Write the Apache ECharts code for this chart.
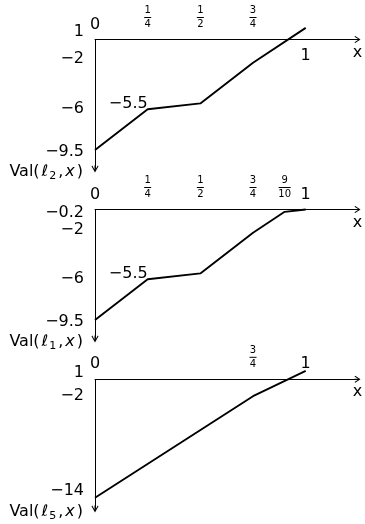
<!DOCTYPE html>
<html>
<head>
<meta charset="utf-8">
<script src="https://cdn.jsdelivr.net/npm/echarts@6/dist/echarts.min.js"></script>
<style>
  html, body { margin: 0; padding: 0; background: #fff; }
  #chart { width: 365px; height: 524px; }
</style>
</head>
<body>
<div id="chart"></div>
<script>
// Piecewise-linear value functions Val(l, x) on [0, 1]
const xsL2 = [0, 0.25, 0.5, 0.75, 1];
const valL2 = [-9.5, -6, -5.5, -2, 1];
const xsL1 = [0, 0.25, 0.5, 0.75, 0.9, 1];
const valL1 = [-9.5, -6, -5.5, -2, -0.2, 0];
const xsL5 = [0, 0.75, 1];
const valL5 = [-14, -2, 1];

// x tick labels drawn above the x axis
const xTopValsL2 = [0, 0.25, 0.5, 0.75];
const xTopTextL2 = ['0', '1/4', '1/2', '3/4'];
const xTopValsL1 = [0, 0.25, 0.5, 0.75, 0.9, 1];
const xTopTextL1 = ['0', '1/4', '1/2', '3/4', '9/10', '1'];
const xTopValsL5 = [0, 0.75, 1];
const xTopTextL5 = ['0', '3/4', '1'];
// x tick labels drawn below the x axis
const xBelowValsL2 = [1];
const xBelowTextL2 = ['1'];

// y tick labels
const yTicksL2 = [1, -2, -6, -9.5];
const yTicksL1 = [-0.2, -2, -6, -9.5];
const yTicksL5 = [1, -2, -14];

// point annotation
const noteXL2 = [0.25];
const noteValL2 = [-5.5];
const noteXL1 = [0.25];
const noteValL1 = [-5.5];

// subscripts of the plotted functions
const fnIndex = ['2', '1', '5'];

const FONT = 'DejaVu Sans';
const INK = '#000';

// open arrow heads, tip pointing up in symbol space
const ARROW_X = 'path://M3.5,0 L7,5.3 L6.2,6 L3.5,1.7 L0.8,6 L0,5.3 Z M3,1 L4,1 L4,6 L3,6 Z';
const ARROW_Y = 'path://M3.5,0 L7,6.2 L6.2,7 L3.5,1.9 L0.8,7 L0,6.2 Z M3,1 L4,1 L4,7 L3,7 Z';

function fmtNum(v) {
  return v < 0 ? '\u2212' + String(-v) : String(v);
}

function fracRich(text) {
  if (text.indexOf('/') >= 0) {
    const parts = text.split('/');
    const bar = parts[1].length > 1 ? 'bw' : 'b';
    return '{n|' + parts[0] + '}\n{' + bar + '| }\n{d|' + parts[1] + '}';
  }
  return '{w|' + text + '}';
}

const RICH_X = {
  w: { fontFamily: FONT, fontSize: 16, lineHeight: 12, color: INK },
  n: { fontFamily: FONT, fontSize: 10, lineHeight: 12, color: INK },
  d: { fontFamily: FONT, fontSize: 10, lineHeight: 12, color: INK },
  b: { width: 7, height: 1, lineHeight: 2, fontSize: 1, backgroundColor: INK },
  bw: { width: 12, height: 1, lineHeight: 2, fontSize: 1, backgroundColor: INK }
};

const RICH_NAME = {
  t: { fontFamily: FONT, fontSize: 16, lineHeight: 18, color: INK },
  l: { fontFamily: FONT, fontSize: 16, fontStyle: 'italic', lineHeight: 18, color: INK, padding: [0, 1, 0, 2] },
  s: { fontFamily: FONT, fontSize: 11, lineHeight: 18, color: INK, padding: [8, 2, 0, 0] },
  c: { fontFamily: FONT, fontSize: 16, lineHeight: 18, color: INK, padding: [0, 2, 0, 0] },
  i: { fontFamily: FONT, fontSize: 16, fontStyle: 'italic', lineHeight: 18, color: INK, padding: [0, 2, 0, 0] }
};

// y labels can be nudged up or down a few pixels (positive = down)
function yLabelStyles(nudges) {
  const rich = { v: { fontFamily: FONT, fontSize: 16, lineHeight: 18, color: INK } };
  nudges.forEach(function (d, k) {
    rich['n' + k] = {
      fontFamily: FONT, fontSize: 16, lineHeight: 18, color: INK,
      padding: d >= 0 ? [d * 2, 0, 0, 0] : [0, 0, -d * 2, 0]
    };
  });
  return rich;
}

// layout of the three stacked panels
const X_LEFT = 95;
const X_WIDTH = 262.5;
const X_MAX = 262.5 / 210.7;
const panels = [
  { top: 16.26, height: 155.7, yMin: -11.4, yMax: 2, arrowEnd: -11.14, nudge: [4, -4, 0, 2] },
  { top: 186.26, height: 155.7, yMin: -11.4, yMax: 2, arrowEnd: -11.14, nudge: [1, -3, 0, 2] },
  { top: 362.38, height: 149.3, yMin: -15.65, yMax: 2, arrowEnd: -15.33, nudge: [2.5, 0, -7] }
];

const series = [
  { xs: xsL2, vals: valL2, top: [xTopValsL2, xTopTextL2], yTicks: yTicksL2, note: [noteXL2, noteValL2] },
  { xs: xsL1, vals: valL1, top: [xTopValsL1, xTopTextL1], yTicks: yTicksL1, note: [noteXL1, noteValL1] },
  { xs: xsL5, vals: valL5, top: [xTopValsL5, xTopTextL5], yTicks: yTicksL5, note: [[], []] }
];

const grid = [], xAxis = [], yAxis = [], seriesOpt = [];

panels.forEach(function (p, i) {
  const s = series[i];
  grid.push({ left: X_LEFT, width: X_WIDTH, top: p.top, height: p.height, outerBoundsMode: 'none', containLabel: false });

  // the x axis crosses at y = 0: shift the top axis down to that level
  const zeroOffset = -p.height * p.yMax / (p.yMax - p.yMin);

  const topVals = s.top[0], topText = s.top[1];
  xAxis.push({
    type: 'value', gridIndex: i, min: 0, max: X_MAX, position: 'top', offset: zeroOffset,
    axisLine: { show: true, onZero: false, symbol: ['none', ARROW_X], symbolSize: [7, 6], lineStyle: { color: INK, width: 1 } },
    axisTick: { show: false }, splitLine: { show: false },
    axisLabel: {
      margin: 9, customValues: topVals,
      formatter: function (v) { return fracRich(topText[topVals.indexOf(v)]); },
      rich: RICH_X, color: INK
    },
    name: 'x', nameLocation: 'end', nameGap: 0, nameMoveOverlap: false,
    nameTextStyle: { fontFamily: FONT, fontSize: 16, color: INK, align: 'center', verticalAlign: 'top', padding: [5, 0, 0, 0] }
  });

  if (i === 0) {
    // panel one also labels x = 1 underneath its axis
    xAxis.push({
      type: 'value', gridIndex: 0, min: 0, max: X_MAX, position: 'top', offset: zeroOffset,
      axisLine: { show: false, onZero: false }, axisTick: { show: false }, splitLine: { show: false },
      axisLabel: {
        inside: true, margin: 10, customValues: xBelowValsL2,
        formatter: function (v) { return fracRich(xBelowTextL2[xBelowValsL2.indexOf(v)]); },
        rich: RICH_X, color: INK
      }
    });
  }

  const ticks = s.yTicks;
  yAxis.push({
    type: 'value', gridIndex: i, min: p.yMin, max: p.yMax,
    axisLine: { show: false }, axisTick: { show: false }, splitLine: { show: false },
    axisLabel: {
      margin: 11, customValues: ticks,
      formatter: function (v) {
        const k = ticks.indexOf(v);
        return '{' + (k >= 0 && p.nudge[k] ? 'n' + k : 'v') + '|' + fmtNum(v) + '}';
      },
      rich: yLabelStyles(p.nudge)
    },
    name: '{t|Val(}{l|\u2113}{s|' + fnIndex[i] + '}{c|,}{i|x}{t|)}',
    nameLocation: 'start', nameGap: 0, nameMoveOverlap: false,
    nameTextStyle: { align: 'right', verticalAlign: 'middle', padding: [0, 12, 0, 0], rich: RICH_NAME }
  });

  const nx = s.note[0], nv = s.note[1];
  seriesOpt.push({
    type: 'line', xAxisIndex: xAxis.length - (i === 0 ? 2 : 1), yAxisIndex: i,
    data: s.xs.map(function (x, k) { return [x, s.vals[k]]; }),
    symbol: 'none', clip: false, silent: true,
    lineStyle: { color: INK, width: 1.9 },
    markLine: {
      silent: true, symbol: ['none', ARROW_Y], symbolSize: 7,
      lineStyle: { color: INK, width: 1, type: 'solid' },
      label: { show: false }, emphasis: { disabled: true },
      data: [[{ coord: [0, 0] }, { coord: [0, p.arrowEnd] }]]
    },
    markPoint: {
      silent: true, symbol: 'circle', symbolSize: 0,
      label: {
        show: true, position: [0, 0], align: 'right', verticalAlign: 'middle',
        fontFamily: FONT, fontSize: 16, color: INK,
        formatter: function (d) { return fmtNum(d.value); }
      },
      data: nx.map(function (x, k) { return { coord: [x, nv[k]], value: nv[k] }; })
    }
  });
});

const chart = echarts.init(document.getElementById('chart'), null, { renderer: 'canvas' });
chart.setOption({
  animation: false,
  backgroundColor: '#fff',
  textStyle: { fontFamily: FONT, color: INK },
  grid: grid,
  xAxis: xAxis,
  yAxis: yAxis,
  series: seriesOpt
});
</script>
</body>
</html>
